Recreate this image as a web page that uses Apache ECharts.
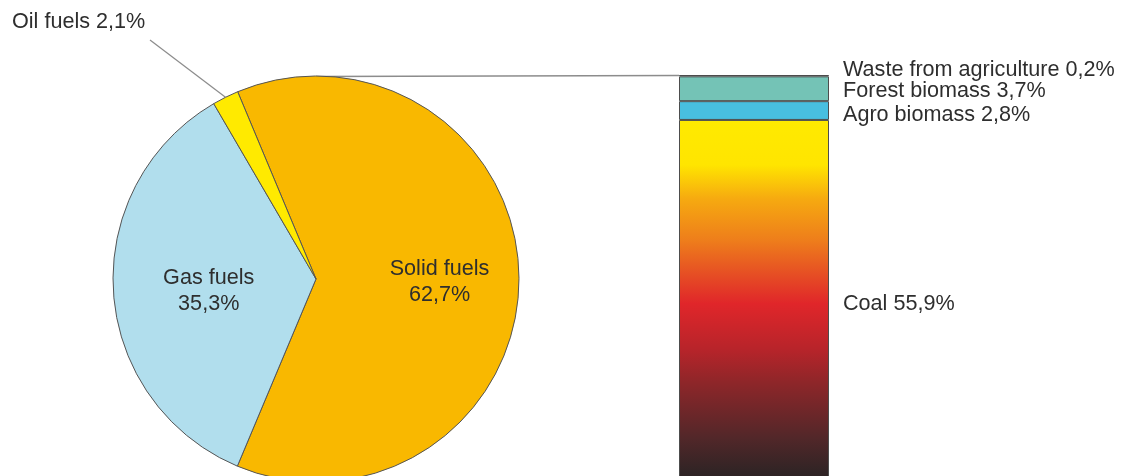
<!DOCTYPE html>
<html>
<head>
<meta charset="utf-8">
<script src="https://cdn.jsdelivr.net/npm/echarts@6/dist/echarts.min.js"></script>
<style>
  html, body { margin: 0; padding: 0; background: #fff; overflow: hidden; width: 1130px; height: 476px; }
  /* The column runs past the bottom edge of the page, so the canvas is taller than the view */
  #chart { width: 1130px; height: 500px; }
</style>
</head>
<body>
<div id="chart"></div>
<script>
// Fuel mix (share of total, %)
const fuelNames = ['Solid fuels', 'Gas fuels', 'Oil fuels'];
const fuelShares = [62.7, 35.3, 2.1];

// Breakdown of solid fuels (%), listed from the top of the column down
const solidNames = ['Waste from agriculture', 'Forest biomass', 'Agro biomass', 'Coal'];
const solidShares = [0.2, 3.7, 2.8, 55.9];

// Layout
const FONT = '"Liberation Sans", Arial, Helvetica, sans-serif';
const FONT_SIZE = 21.6;
const TEXT = '#2e2e2e';
const pieCenter = [316, 279];
const pieRadius = 203;
const col = { left: 679, top: 75, width: 150, height: 420 };

const fuelColors = ['#F9B800', '#B1DEED', '#FFEA00'];
const solidColors = [
  '#3f6f64',
  '#74C3B6',
  '#48BFE0',
  new echarts.graphic.LinearGradient(0, 0, 0, 1, [
    { offset: 0.00, color: '#FFEA00' },
    { offset: 0.12, color: '#FFE500' },
    { offset: 0.21, color: '#F6AA10' },
    { offset: 0.32, color: '#EE7E1B' },
    { offset: 0.41, color: '#E64F24' },
    { offset: 0.49, color: '#E0262A' },
    { offset: 0.61, color: '#B8242A' },
    { offset: 0.70, color: '#8E2629' },
    { offset: 0.85, color: '#512729' },
    { offset: 0.94, color: '#302425' },
    { offset: 1.00, color: '#2A2222' }
  ])
];

const pct = v => v.toFixed(1).replace('.', ',') + '%';

// Pie label nudges (dx, dy) per slice
const pieNudge = [[19, 3], [-3, 5]];
// Column label nudges (dx, dy) per segment
const colNudge = [[0, -6], [0, 2], [0, 4], [0, -3]];

const chart = echarts.init(document.getElementById('chart'), null, { renderer: 'canvas' });

const solidTotal = solidShares.reduce((a, b) => a + b, 0);

const barSeries = solidNames.map((name, i) => ({
  type: 'bar',
  name: name,
  stack: 'solid',
  barWidth: '100%',
  data: [solidShares[i]],
  itemStyle: { color: solidColors[i], borderColor: '#4d4d4d', borderWidth: 1 },
  label: {
    show: true,
    position: 'right',
    distance: 14,
    offset: colNudge[i],
    formatter: p => p.seriesName + ' ' + pct(p.value),
    color: TEXT,
    fontSize: FONT_SIZE,
    fontFamily: FONT
  },
  silent: true,
  animation: false
}));

chart.setOption({
  backgroundColor: '#ffffff',
  animation: false,
  grid: { left: col.left, top: col.top, width: col.width, height: col.height },
  xAxis: { type: 'category', data: ['Solid fuels'], show: false },
  yAxis: { type: 'value', min: 0, max: solidTotal, inverse: true, show: false },
  graphic: [{
    type: 'line',
    z: -1,
    shape: {
      x1: pieCenter[0], y1: pieCenter[1] - pieRadius + 0.5,
      x2: col.left, y2: col.top + 0.5
    },
    style: { stroke: '#8c8c8c', lineWidth: 1.5 }
  }],
  series: [{
    type: 'pie',
    center: pieCenter,
    radius: pieRadius,
    startAngle: 112.7,
    clockwise: true,
    avoidLabelOverlap: false,
    silent: true,
    data: fuelNames.map((name, i) => ({
      name: name,
      value: fuelShares[i],
      itemStyle: { color: fuelColors[i] },
      label: i < 2
        ? { position: 'inside', formatter: p => p.name + '\n' + pct(p.value), lineHeight: 26 }
        : { position: 'outside', formatter: p => p.name + ' ' + pct(p.value) },
      labelLine: i < 2 ? { show: false } : { show: true, length: 10, length2: 0, lineStyle: { color: '#8c8c8c', width: 1.2 } }
    })),
    itemStyle: { borderColor: '#555555', borderWidth: 1 },
    label: { show: true, color: TEXT, fontSize: FONT_SIZE, fontFamily: FONT, align: 'center' },
    labelLayout: function (p) {
      if (p.dataIndex < 2) {
        return { dx: pieNudge[p.dataIndex][0], dy: pieNudge[p.dataIndex][1] };
      }
      const start = p.labelLinePoints ? p.labelLinePoints[0] : null;
      const out = { x: 12, y: 22, align: 'left', verticalAlign: 'middle' };
      if (start) out.labelLinePoints = [start, [150, 40], [150, 40]];
      return out;
    }
  }].concat(barSeries)
});
</script>
</body>
</html>
